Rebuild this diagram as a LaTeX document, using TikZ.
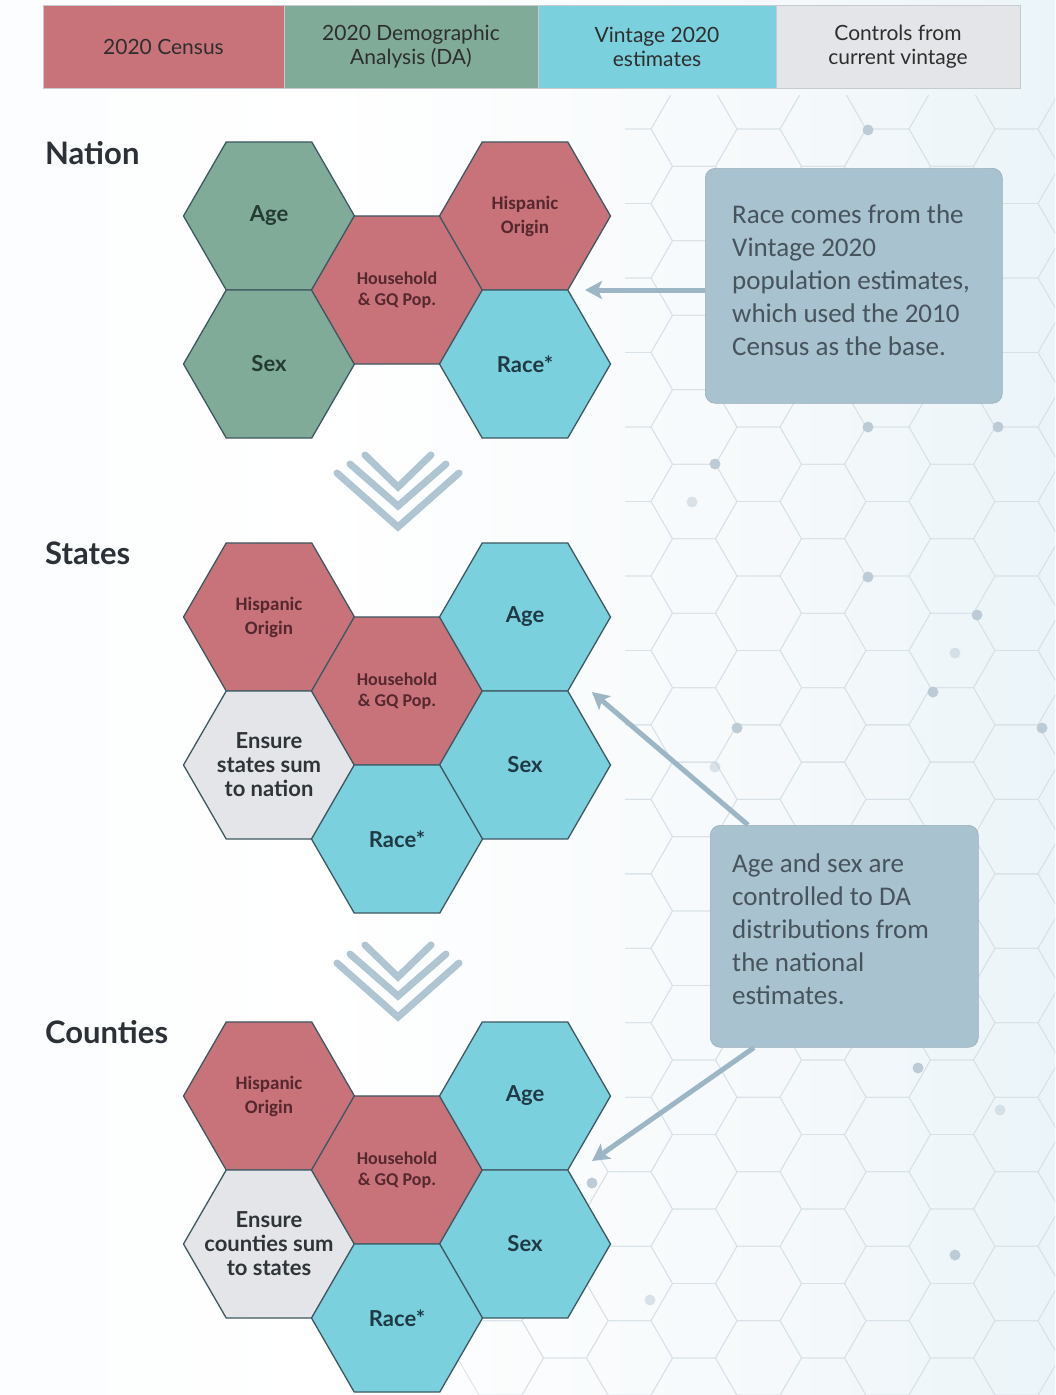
\documentclass[tikz,border=0pt]{standalone}
\usepackage{fontspec}
\setmainfont{Lato}
\newfontfamily\calfont{Carlito}
\usetikzlibrary{shapes.geometric,arrows.meta}
\definecolor{cred}{HTML}{C8737A}
\definecolor{cgreen}{HTML}{80AB98}
\definecolor{ccyan}{HTML}{7BD0DE}
\definecolor{cgray}{HTML}{E4E5E8}
\definecolor{hexline}{HTML}{3E5862}
\definecolor{boxc}{HTML}{A8C2CF}
\definecolor{boxtext}{HTML}{48545D}
\definecolor{arrowc}{HTML}{9CB6C5}
\definecolor{chevc}{HTML}{AFC5D2}
\definecolor{latc}{HTML}{D8E1E7}
\definecolor{dotc}{HTML}{BCCBD5}
\definecolor{bgblue}{HTML}{D8EBF3}
\definecolor{bgleft}{HTML}{F5F9FB}
\definecolor{hdrc}{HTML}{2B3136}
\definecolor{legborder}{HTML}{C6CBD0}
\definecolor{tgreen}{HTML}{233B33}
\definecolor{tred}{HTML}{55282E}
\definecolor{tcyan}{HTML}{1F3A44}
\definecolor{tgray}{HTML}{2E3438}
\pgfdeclarehorizontalshading{bgshade}{100bp}{color(0bp)=(bgleft); color(40bp)=(white); color(62bp)=(bgleft); color(100bp)=(bgblue)}
\begin{document}
\begin{tikzpicture}[x=1pt,y=-1pt,
  leg/.style={rectangle, draw=legborder, line width=1pt, minimum height=83pt, inner sep=0pt, outer sep=0pt, align=center, text=black!82, font=\fontsize{21}{24}\selectfont},
  hexa/.style={regular polygon, regular polygon sides=6, minimum size=171pt, inner sep=0pt, outer sep=0pt, draw=hexline, line width=1.3pt, align=center, font=\fontsize{22}{24}\selectfont\bfseries},
  hgreen/.style={hexa, fill=cgreen, text=tgreen},
  hred/.style={hexa, fill=cred, text=tred},
  hcyan/.style={hexa, fill=ccyan, text=tcyan},
  hgray/.style={hexa, fill=cgray, text=tgray},
  small/.style={font=\calfont\bfseries\fontsize{18}{21}\selectfont},
  hisp/.style={font=\calfont\bfseries\fontsize{19}{24}\selectfont},
  hdr/.style={anchor=base west, inner sep=0pt, text=hdrc, font=\fontsize{31}{34}\selectfont\bfseries},
  callbox/.style={rectangle, rounded corners=10pt, fill=boxc, draw=boxc!85!black!90, line width=0.6pt, inner sep=0pt},
  calltext/.style={anchor=west, inner sep=0pt, align=left, text=boxtext, font=\calfont\fontsize{27}{33}\selectfont},
  conn/.style={draw=arrowc, line width=5pt, -{Stealth[length=17pt,width=18pt,inset=4pt]}},
  chev/.style={draw=chevc, line width=7pt, line cap=round, line join=miter},
  lat/.style={draw=latc, line width=0.8pt},
  dot/.style={fill=dotc}
]
\useasboundingbox (0,0) rectangle (1055,1395);
\shade[shading=bgshade] (0,0) rectangle (1055,1395);

% background lattice
\begin{scope}
\clip (625,95) -- (1055,95) -- (1055,1395) -- (420,1395) -- (420,1160) -- (625,1160) -- cycle;
\foreach \i in {-4,...,8} {
  \foreach \j in {-6,...,14} {
    \pgfmathsetmacro\cx{758.5+64.5*\i}
    \pgfmathsetmacro\cy{464.2+74.48*\j+37.24*mod(\i+4,2)}
    \draw[lat] (\cx+43,\cy) -- (\cx+21.5,\cy+37.24) -- (\cx-21.5,\cy+37.24) -- (\cx-43,\cy) -- (\cx-21.5,\cy-37.24) -- (\cx+21.5,\cy-37.24) -- cycle;
  }
}
\foreach \p in {(868,427),(998,427),(715,464),(868,577),(977,615),(933,692),(737,728),(1042,728),(918,1068),(592,1183),(955,1255),(868,130)} {
  \fill[dot] \p circle (5.5pt);
}
\foreach \p in {(692,502),(955,653),(715,767),(1000,1110),(650,1300)} {
  \fill[dot, opacity=0.5] \p circle (5.5pt);
}
\end{scope}

% legend
\node[leg, fill=cred, minimum width=241pt] (l1) at (163.5,46.5) {2020 Census};
\node[leg, fill=cgreen, minimum width=254pt] (l2) at (411,46.5) {2020 Demographic\\Analysis (DA)};
\node[leg, fill=ccyan, minimum width=238pt] (l3) at (657,46.5) {Vintage 2020\\estimates};
\node[leg, fill=cgray, minimum width=244pt] (l4) at (898,46.5) {Controls from\\current vintage};

% headers
\node[hdr] (hn) at (45,164) {Nation};
\node[hdr] (hs) at (45,564) {States};
\node[hdr] (hc) at (45,1043) {Counties};

% Nation
\node[hgreen] (nage) at (269,216) {Age};
\node[hgreen] (nsex) at (269,364) {Sex};
\node[hred, small] (nhh) at (397,290) {Household\\\& GQ Pop.};
\node[hred, hisp] (nhisp) at (525,216) {Hispanic\\Origin};
\node[hcyan] (nrace) at (525,364) {Race*};

% States
\node[hred, hisp] (shisp) at (269,617) {Hispanic\\Origin};
\node[hgray] (sens) at (269,765) {Ensure\\\makebox[0pt]{states sum}\\to nation};
\node[hred, small] (shh) at (397,691) {Household\\\& GQ Pop.};
\node[hcyan] (sage) at (525,617) {Age};
\node[hcyan] (ssex) at (525,765) {Sex};
\node[hcyan] (srace) at (397,839) {Race*};

% Counties
\node[hred, hisp] (chisp) at (269,1096) {Hispanic\\Origin};
\node[hgray] (cens) at (269,1244) {Ensure\\\makebox[0pt]{counties sum}\\to states};
\node[hred, small] (chh) at (397,1170) {Household\\\& GQ Pop.};
\node[hcyan] (cage) at (525,1096) {Age};
\node[hcyan] (csex) at (525,1244) {Sex};
\node[hcyan] (crace) at (397,1318) {Race*};

% chevrons
\foreach \dy in {0,490} {
  \draw[chev] (365,455+\dy) -- (398,487+\dy) -- (431,455+\dy);
  \draw[chev] (350,464+\dy) -- (398,506+\dy) -- (446,464+\dy);
  \draw[chev] (337,473+\dy) -- (398,527+\dy) -- (459,473+\dy);
}

% callouts
\node[callbox, minimum width=297pt, minimum height=235pt, anchor=north west] (c1) at (705,168) {};
\node[calltext] (t1) at ([xshift=27pt,yshift=6pt]c1.west) {Race comes from the\\Vintage 2020\\population estimates,\\which used the 2010\\Census as the base.};
\node[callbox, minimum width=268pt, minimum height=222pt, anchor=north west] (c2) at (710,825) {};
\node[calltext] (t2) at ([xshift=22pt,yshift=7pt]c2.west) {Age and sex are\\controlled to DA\\distributions from\\the national\\estimates.};

% arrows
\coordinate (a1) at (585,290);
\coordinate (a2) at (592,692);
\coordinate (a3) at (592,1161);
\draw[conn] (c1.west |- a1) -- (a1);
\draw[conn] ([xshift=38pt]c2.north west) -- (a2);
\draw[conn] ([xshift=44pt]c2.south west) -- (a3);
\end{tikzpicture}
\end{document}
